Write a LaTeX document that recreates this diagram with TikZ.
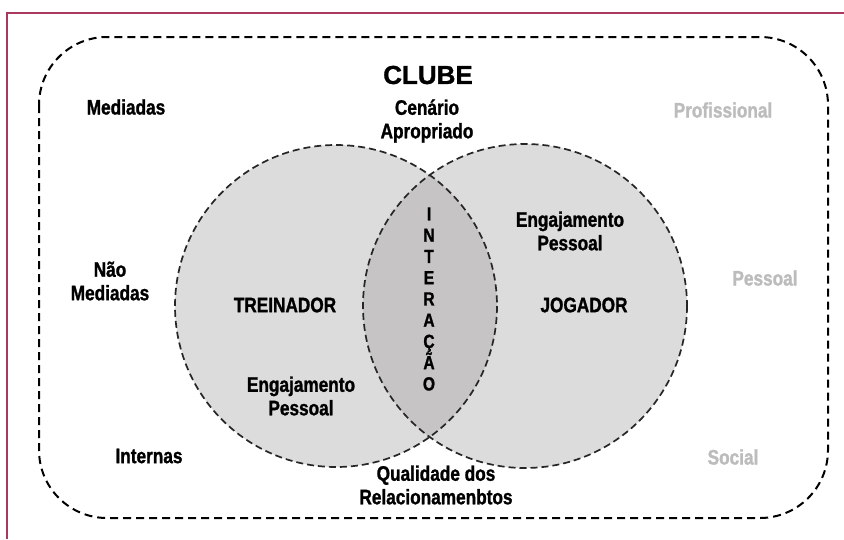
\documentclass[tikz,border=0pt]{standalone}
\usepackage{fontspec}
\newfontfamily\lblfont[FakeStretch=0.82,FakeBold=1.2]{Liberation Sans Bold}
\newfontfamily\widefont[FakeBold=1.2]{Liberation Sans Bold}
\usepackage{xcolor}
\usepackage{tikz}
\usetikzlibrary{positioning}
\definecolor{framered}{RGB}{168,56,92}
\definecolor{vennfill}{RGB}{221,220,220}
\definecolor{lensfill}{RGB}{198,196,196}
\definecolor{softgray}{RGB}{188,188,188}
\begin{document}
\begin{tikzpicture}[
	x=1pt, y=-1pt,
	font=\lblfont\fontsize{21}{23.5}\selectfont
]
\tikzset{
    lbl/.style = {align=center, inner sep=0pt, text=black},
    graylbl/.style = {lbl, text=softgray},
    clubline/.style = {draw=black, line width=2pt, dash pattern=on 8pt off 5pt},
    vennline/.style = {draw=black!85, line width=1.7pt, dash pattern=on 7pt off 4pt}
}
\useasboundingbox (0,0) rectangle (844,539);
\fill[white] (0,0) rectangle (844,539);
\draw[framered, line width=2.2pt] (7,539) -- (7,13) -- (844,13);
\draw[clubline, rounded corners=68pt] (39,37) rectangle (828,518);
\coordinate (treinador) at (336,306);
\coordinate (jogador) at (525,306);
\fill[vennfill] (treinador) circle (161);
\fill[vennfill] (jogador) circle (162);
\begin{scope}
\clip (treinador) circle (161);
\fill[lensfill] (jogador) circle (162);
\end{scope}
\draw[vennline] (treinador) circle (161);
\draw[vennline] (jogador) circle (162);
\node[lbl, font=\widefont\fontsize{26}{30}\selectfont] (clube) at (428,75) {CLUBE};
\node[lbl] (cenario) at (427,121) {Cenário\\Apropriado};
\node[lbl] (mediadas) at (126,107) {Mediadas};
\node[lbl] (naomed) at (110,281) {Não\\Mediadas};
\node[lbl] (internas) at (149,456) {Internas};
\node[graylbl] (profissional) at (723,110) {Profissional};
\node[graylbl] (pessoal) at (765,278) {Pessoal};
\node[graylbl] (social) at (733,457) {Social};
\node[lbl] (treinadorlbl) at (285,305) {TREINADOR};
\node[lbl] (jogadorlbl) at (584,305) {JOGADOR};
\node[lbl] (engtreinador) at (301,396) {Engajamento\\Pessoal};
\node[lbl] (engjogador) at (570,231) {Engajamento\\Pessoal};
\node[lbl, font=\lblfont\fontsize{19}{21.25}\selectfont] (interacao) at (429,299) {I\\N\\T\\E\\R\\A\\Ç\\Ã\\O};
\node[lbl] (qualidade) at (436,485) {Qualidade dos\\Relacionamenbtos};
\end{tikzpicture}
\end{document}
